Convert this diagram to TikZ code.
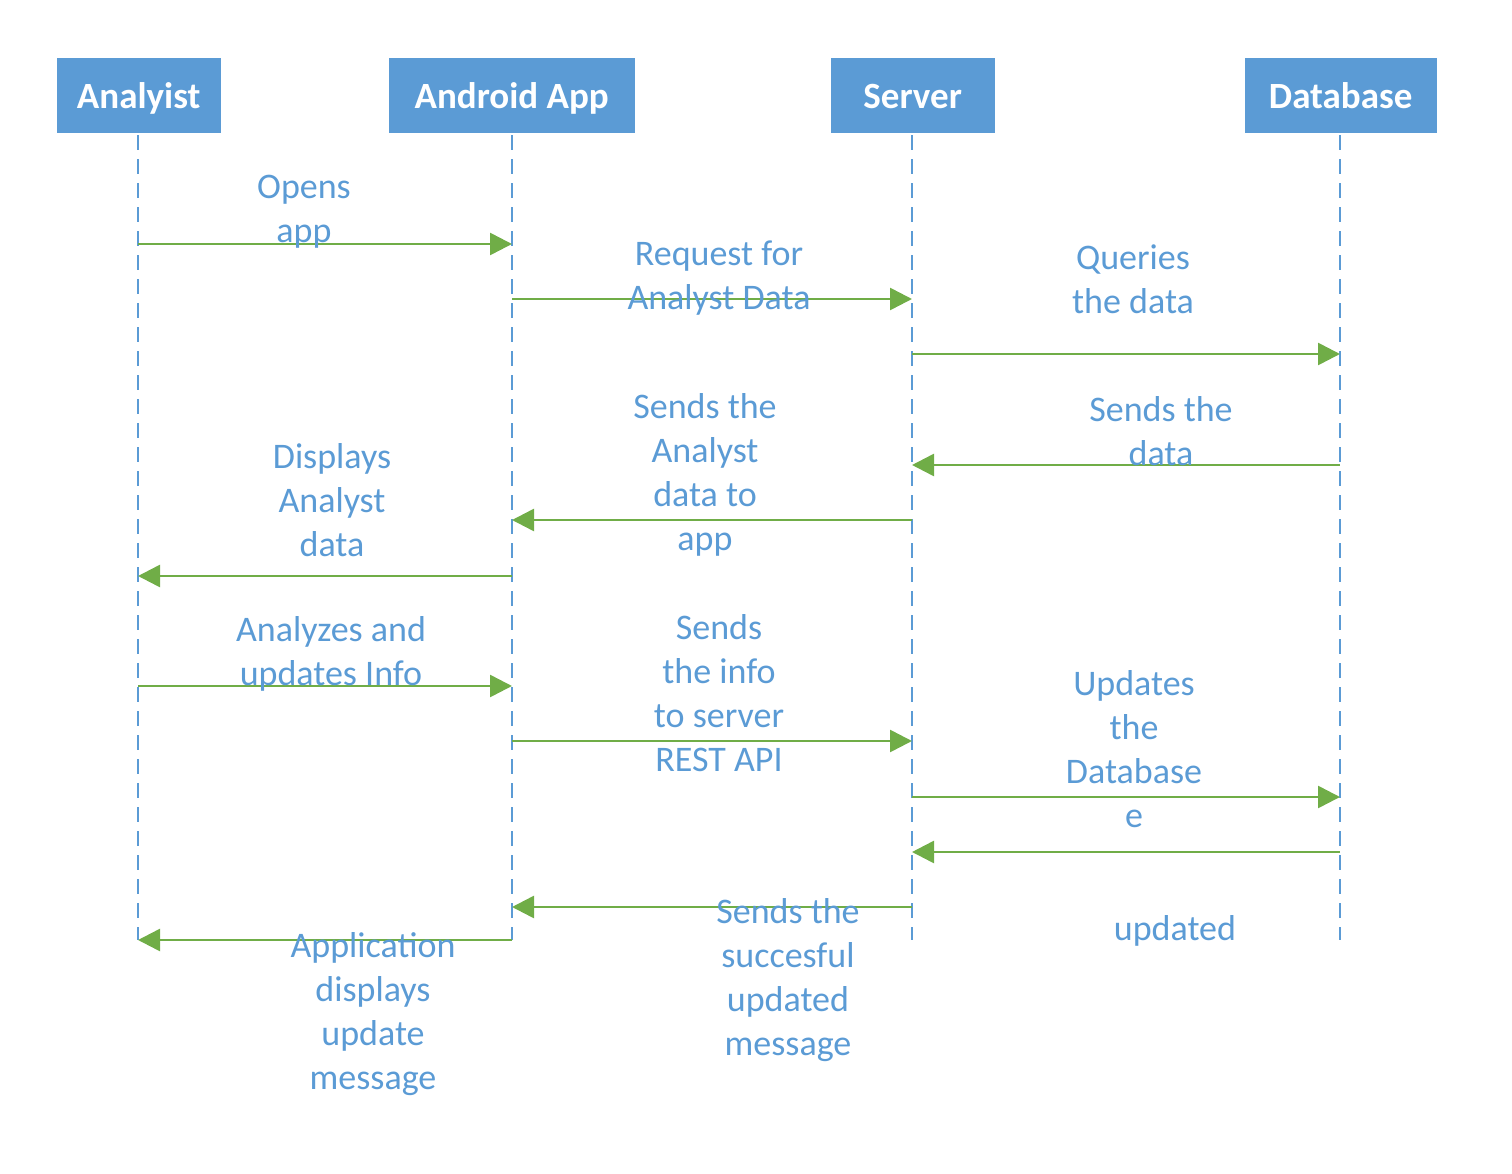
\documentclass[tikz,border=0pt]{standalone}
\usepackage{fontspec}
\setmainfont{Carlito}
\usetikzlibrary{arrows.meta}
\definecolor{hdr}{HTML}{5B9BD5}
\definecolor{txtblue}{HTML}{5B9BD5}
\definecolor{msg}{HTML}{70AD47}
\tikzset{
  actor/.style={draw=hdr, fill=hdr, text=white, font=\fontsize{37}{44}\selectfont\bfseries, minimum height=74pt, text height=26pt, text depth=0pt, inner sep=0pt, anchor=north west},
  lifeline/.style={draw=hdr, line width=2pt, dash pattern=on 15pt off 9pt},
  message/.style={draw=msg, line width=2.6pt, -{Triangle[length=22pt,width=22pt]}},
  lbl/.style={text=txtblue, font=\fontsize{36}{44}\selectfont, align=center, inner sep=0pt}
}
\begin{document}
\begin{tikzpicture}[x=1pt,y=-1pt]
\useasboundingbox (0,0) rectangle (1512,1174);
% actors
\node[actor, minimum width=163pt] (a) at (57,58) {Analyist};
\node[actor, minimum width=245pt] (b) at (389,58) {Android App};
\node[actor, minimum width=163pt] (c) at (831,58) {Server};
\node[actor, minimum width=191pt] (d) at (1245,58) {Database};
% lifeline ends
\coordinate (ae) at (138,940);
\coordinate (be) at (512,940);
\coordinate (ce) at (912,940);
\coordinate (de) at (1340,940);
\draw[lifeline] ([yshift=-3pt]a.south -| ae) -- (ae);
\draw[lifeline] ([yshift=-3pt]b.south -| be) -- (be);
\draw[lifeline] ([yshift=-3pt]c.south -| ce) -- (ce);
\draw[lifeline] ([yshift=-3pt]d.south -| de) -- (de);
% message points
\foreach \n/\x in {A/138,B/512,C/912,D/1340}{
  \foreach \i/\y in {1/244,2/299,3/354,4/465,5/520,6/576,7/686,8/741,9/797,10/852,11/907,12/940}{
    \coordinate (\n\i) at (\x,\y);
  }
}
% messages
\draw[message] (A1) -- (B1);
\draw[message] (B2) -- (C2);
\draw[message] (C3) -- (D3);
\draw[message] (D4) -- (C4);
\draw[message] (C5) -- (B5);
\draw[message] (B6) -- (A6);
\draw[message] (A7) -- (B7);
\draw[message] (B8) -- (C8);
\draw[message] (C9) -- (D9);
\draw[message] (D10) -- (C10);
\draw[message] (C11) -- (B11);
\draw[message] (B12) -- (A12);
% labels
\node[lbl] (t1) at (304,212) {Opens\\app};
\node[lbl] (t2) at (719,278) {Request for\\Analyst Data};
\node[lbl] (t3) at (1133,279) {Queries\\the data};
\node[lbl] (t4) at (1161,431) {Sends the\\data};
\node[lbl] (t5) at (705,475) {Sends the\\Analyst\\data to\\app};
\node[lbl] (t6) at (332,500) {Displays\\Analyst\\data};
\node[lbl] (t7) at (331,654) {Analyzes and\\updates Info};
\node[lbl] (t8) at (719,693) {Sends\\the info\\to server\\REST API};
\node[lbl] (t9) at (1134,749) {Updates\\the\\Database\\e};
\node[lbl] (t10) at (1175,931) {updated};
\node[lbl] (t11) at (788,980) {Sends the\\succesful\\updated\\message};
\node[lbl] (t12) at (373,1014) {Application\\displays\\update\\message};
\end{tikzpicture}
\end{document}
